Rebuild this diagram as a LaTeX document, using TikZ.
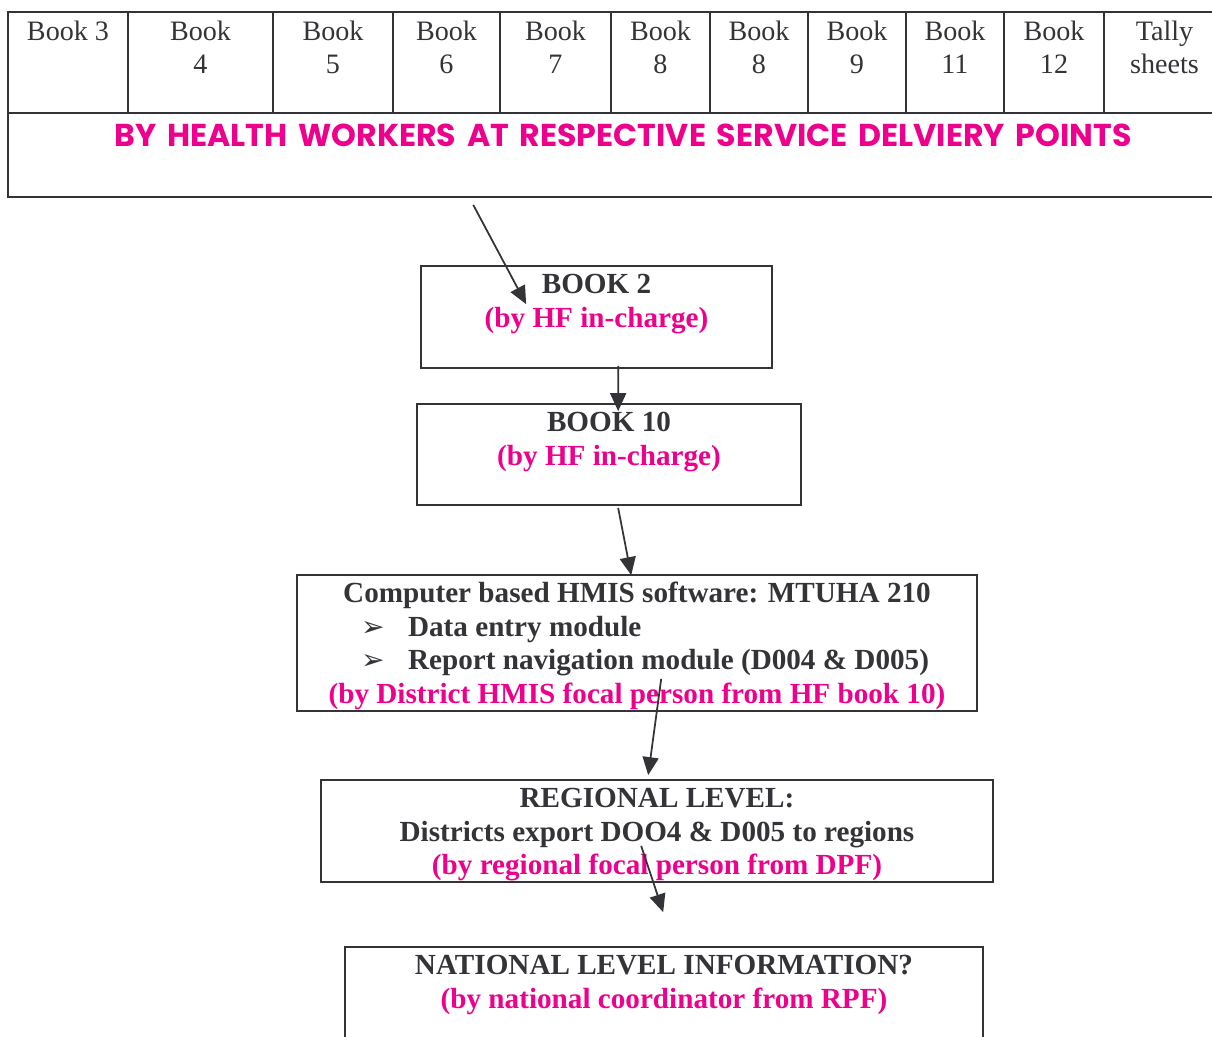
\documentclass[tikz,border=0pt]{standalone}
\usepackage{fontspec}
\setmainfont{Liberation Serif}
\newfontfamily\bannerfont[WordSpace=1.6]{Poppins}
\newfontfamily\symfont{DejaVu Sans}
\usetikzlibrary{arrows.meta,calc}

\definecolor{ink}{RGB}{52,52,56}
\definecolor{hwpink}{RGB}{236,0,140}

\tikzset{
  cell/.style={draw, inner sep=0pt},
  box/.style={draw, inner sep=0pt},
  celltext/.style={font=\fontsize{16}{18.7}\selectfont, align=center, inner sep=0pt, anchor=north},
  title/.style={font=\fontsize{16.6}{19}\selectfont\bfseries, inner sep=0pt, anchor=base},
  byline/.style={title, text=hwpink},
  bullet/.style={font=\fontsize{16}{18}\selectfont\symfont\bfseries, inner sep=0pt, anchor=base west},
  bannertext/.style={font=\fontsize{18}{20}\selectfont\bannerfont\bfseries, text=hwpink, inner sep=0pt, anchor=base}
}

\begin{document}
\begin{tikzpicture}[x=0.02cm, y=-0.02cm, color=ink, line width=1pt,
  >={Triangle[length=3.6mm, width=3.2mm]}]
\useasboundingbox (0,0) rectangle (1212,1036);
\clip (0,0) rectangle (1212,1036);

% register books
\foreach \l/\r/\t [count=\i] in {8/128/{Book 3}, 128/273/{Book\\4}, 273/393/{Book\\5},
  393/500/{Book\\6}, 500/611/{Book\\7}, 611/710/{Book\\8}, 710/808/{Book\\8},
  808/906/{Book\\9}, 906/1004/{Book\\11}, 1004/1104/{Book\\12}, 1104/1225/{Tally\\sheets}}{
  \node[cell, minimum width={(\r-\l)*0.02cm}, minimum height=2.02cm] (c\i) at ({(\l+\r)/2},62.5) {};
  \node[celltext] (t\i) at ($(c\i.north)+(0,9)$) {\t};
}
\node[cell, minimum width=24.34cm, minimum height=1.68cm] (banner) at (616.5,155) {};
\node[bannertext] (bannert) at ($(banner.north)+(6.5,34)$) {BY HEALTH WORKERS AT RESPECTIVE SERVICE DELVIERY POINTS};

% facility level
\node[box, minimum width=7.02cm, minimum height=2.04cm] (book2) at (596.5,317) {};
\node[title] (book2t) at ($(book2.north)+(0,28)$) {BOOK 2};
\node[byline] (book2b) at ($(book2.north)+(0,62)$) {(by HF in-charge)};

\node[box, minimum width=7.68cm, minimum height=2.02cm] (book10) at (609,454.5) {};
\node[title] (book10t) at ($(book10.north)+(0,28)$) {BOOK 10};
\node[byline] (book10b) at ($(book10.north)+(0,62)$) {(by HF in-charge)};

% district level
\node[box, minimum width=13.6cm, minimum height=2.72cm] (comp) at (637,643) {};
\node[title] (compt) at ($(comp.north)+(0,28)$) {Computer based HMIS software: MTUHA 210};
\node[bullet] (compb1) at ($(comp.north west)+(64,62)$) {➢};
\node[title, anchor=base west] (compl1) at ($(comp.north west)+(111,62)$) {Data entry module};
\node[bullet] (compb2) at ($(comp.north west)+(64,95)$) {➢};
\node[title, anchor=base west] (compl2) at ($(comp.north west)+(111,95)$) {Report navigation module (D004 \& D005)};
\node[byline] (compb) at ($(comp.north)+(0,129)$) {(by District HMIS focal person from HF book 10)};

% regional level
\node[box, minimum width=13.44cm, minimum height=2.04cm] (region) at (657,831) {};
\node[title] (regiont) at ($(region.north)+(0,28)$) {REGIONAL LEVEL:};
\node[title] (regionl) at ($(region.north)+(0,62)$) {Districts export DOO4 \& D005 to regions};
\node[byline] (regionb) at ($(region.north)+(0,95)$) {(by regional focal person from DPF)};

% national level
\node[box, minimum width=12.76cm, minimum height=2.26cm] (nation) at (664,1003.5) {};
\node[title] (nationt) at ($(nation.north)+(0,28)$) {NATIONAL LEVEL INFORMATION?};
\node[byline] (nationb) at ($(nation.north)+(0,62)$) {(by national coordinator from RPF)};
\coordinate (natin) at ($(nation.north west)+(319,-34)$);

% flow
\draw[->] ($(banner.south west)+(466,7)$) -- ($(book2.north west)+(106,39)$);
\draw[->] ($(book2.south west)+(198,-3)$) -- ($(book10.north west)+(202,8)$);
\draw[->] ($(book10.south west)+(202,2)$) -- ($(comp.north west)+(335,1)$);
\draw[->] ($(comp.south west)+(365,-33)$) -- ($(region.north west)+(328,-4)$);
\draw[->] ($(region.south west)+(321,-37)$) -- (natin);
\end{tikzpicture}
\end{document}
